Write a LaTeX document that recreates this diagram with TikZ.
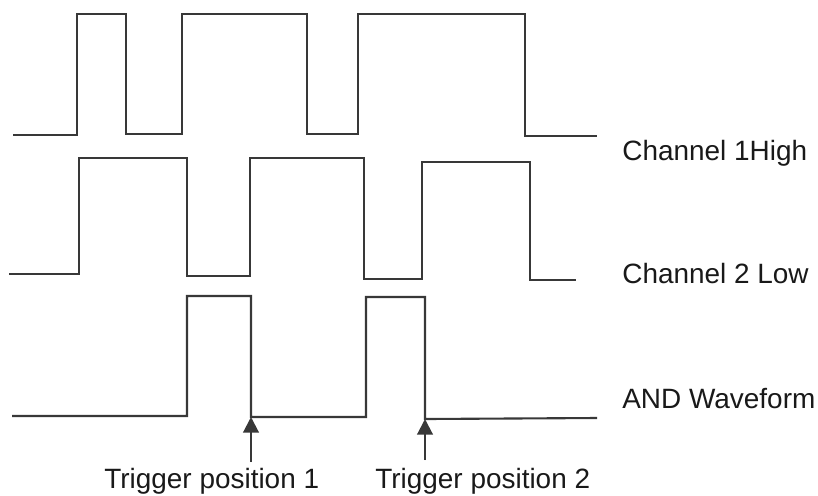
\documentclass[tikz,border=0pt]{standalone}
\usepackage{fontspec}
\setmainfont{Liberation Sans}
\usepackage{tikz}
\usetikzlibrary{arrows.meta,positioning}
\definecolor{waveGray}{gray}{0.22}
\tikzset{
  wave/.style={draw=waveGray, line width=1.2pt, line join=miter},
  lbl/.style={anchor=base west, inner sep=0pt, font=\fontsize{15.9}{18}\selectfont, text=black!90},
  trigarrow/.style={-{Triangle[length=3.1mm, width=3.1mm]}, line width=1.2pt, draw=waveGray, fill=black}
}

\begin{document}
\begin{tikzpicture}[x=0.02cm, y=-0.02cm]
  \useasboundingbox (0,0) rectangle (818,495);
  % waveforms
  \draw[wave] (13,135) -- (77,135) -- (77,14) -- (126,14) -- (126,134) -- (182,134) -- (182,14)
    -- (307,14) -- (307,134) -- (358,134) -- (358,14) -- (525,14) -- (525,136) -- (597,136);
  \draw[wave] (9,274) -- (79,274) -- (79,158) -- (187,158) -- (187,276) -- (250,276) -- (250,158)
    -- (364,158) -- (364,279) -- (422,279) -- (422,162) -- (530,162) -- (530,280) -- (576,280);
  \draw[wave] (12,416) -- (187,416) -- (187,296) -- (251,296) -- (251,417) -- (366,417) -- (366,297)
    -- (425,297) -- (425,419) -- (597,418);
  % labels
  \node[lbl] (ch1lbl) at (622,160) {Channel 1High};
  \node[lbl] (ch2lbl) at (622,283) {Channel 2 Low};
  \node[lbl] (andlbl) at (622,408) {AND Waveform};
  \node[lbl] (trig1lbl) at (104,488) {Trigger position 1};
  \node[lbl] (trig2lbl) at (375,488) {Trigger position 2};
  % trigger arrows
  \coordinate (trig1) at (251,417);
  \coordinate (trig1tail) at (251,462);
  \coordinate (trig2) at (425,419);
  \coordinate (trig2tail) at (425,460);
  \draw[trigarrow] (trig1tail) -- (trig1);
  \draw[trigarrow] (trig2tail) -- (trig2);
\end{tikzpicture}
\end{document}
